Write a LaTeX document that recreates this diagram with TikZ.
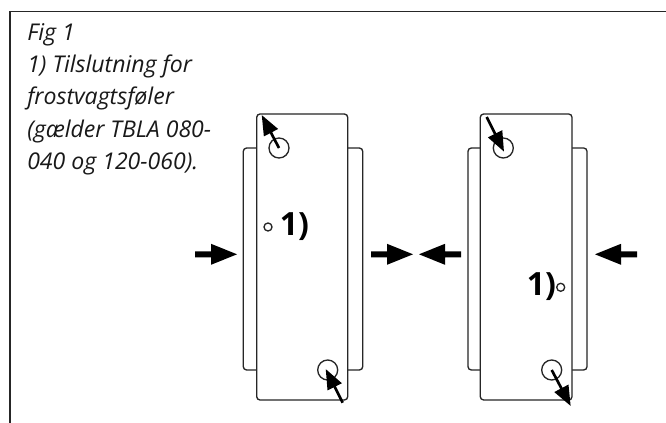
\documentclass[tikz,border=0pt]{standalone}
\usepackage{fontspec}
\setmainfont{Open Sans}
\usetikzlibrary{arrows.meta}
\tikzset{
  framel/.style={line width=1pt,black!85},
  mainbox/.style={draw=black!85,fill=white,line width=1pt,rounded corners=2.5pt},
  sidebox/.style={draw=black!85,line width=1pt,rounded corners=2.5pt},
  port/.style={draw=black!85,fill=white,line width=1pt,circle,inner sep=0pt,minimum size=15pt},
  smallport/.style={draw=black!85,fill=white,line width=1pt,circle,inner sep=0pt,minimum size=6pt},
  flow/.style={draw=none,fill=black},
  thinarrow/.style={line width=2pt,black,-{Triangle[length=15pt,width=11.5pt]}},
  mark1/.style={font=\bfseries\fontsize{24}{26}\selectfont,inner sep=0pt},
  caption/.style={font=\itshape\fontsize{17.3}{24.2}\selectfont,align=left,inner sep=0pt,anchor=north west,text=black!90}
}
\newcommand{\blockR}[2]{\fill[flow] (#1,#2) ++(-42,-3) -- ++(16,0) -- ++(0,-7.5) -- (#1,#2) -- ++(-26,10.5) -- ++(0,-7.5) -- ++(-16,0) -- cycle;}
\newcommand{\blockL}[2]{\fill[flow] (#1,#2) ++(42,-3) -- ++(-16,0) -- ++(0,-7.5) -- (#1,#2) -- ++(26,10.5) -- ++(0,-7.5) -- ++(16,0) -- cycle;}
\begin{document}
\begin{tikzpicture}[x=0.75pt,y=-0.75pt]
\useasboundingbox (0,0) rectangle (666,423);
\fill[white] (0,0) rectangle (666,423);
\coordinate (fbl) at (10,423);
\coordinate (ftl) at (10,11.5);
\coordinate (ftr) at (666,11.5);
\draw[framel] (fbl) -- (ftl) -- (ftr);
\node[caption] (cap) at (27,23) {Fig 1\\1) Tilslutning for\\frostvagtsføler\\(gælder TBLA 080-\\040 og 120-060).};
% left unit
\draw[sidebox] (243.3,148) rectangle (362.7,370);
\draw[mainbox] (256.7,114) rectangle (347.7,400);
\node[port] (a1) at (279,148) {};
\node[port] (a2) at (327.7,370) {};
\node[smallport] (a3) at (268,227) {};
\node[mark1] (a4) at (294.5,227) {1)};
\coordinate (a1t) at (261.7,115);
\coordinate (a2s) at (342.7,402.7);
\coordinate (a2t) at (325.7,369);
\draw[thinarrow] (a1.center) -- (a1t);
\draw[thinarrow] (a2s) -- (a2t);
% right unit
\draw[sidebox] (468,148) rectangle (587,370);
\draw[mainbox] (480.3,114) rectangle (572,400);
\node[port] (b1) at (503.3,148) {};
\node[port] (b2) at (551.7,370) {};
\node[smallport] (b3) at (560.7,287.3) {};
\node[mark1] (b4) at (541.5,287) {1)};
\coordinate (b1s) at (486.7,117);
\coordinate (b1t) at (504,151.7);
\coordinate (b2t) at (570.7,406);
\draw[thinarrow] (b1s) -- (b1t);
\draw[thinarrow] (b2.center) -- (b2t);
% flow arrows
\blockR{237}{254.3}
\blockR{413}{254.3}
\blockL{419}{254.3}
\blockL{595}{254.3}
\end{tikzpicture}
\end{document}
